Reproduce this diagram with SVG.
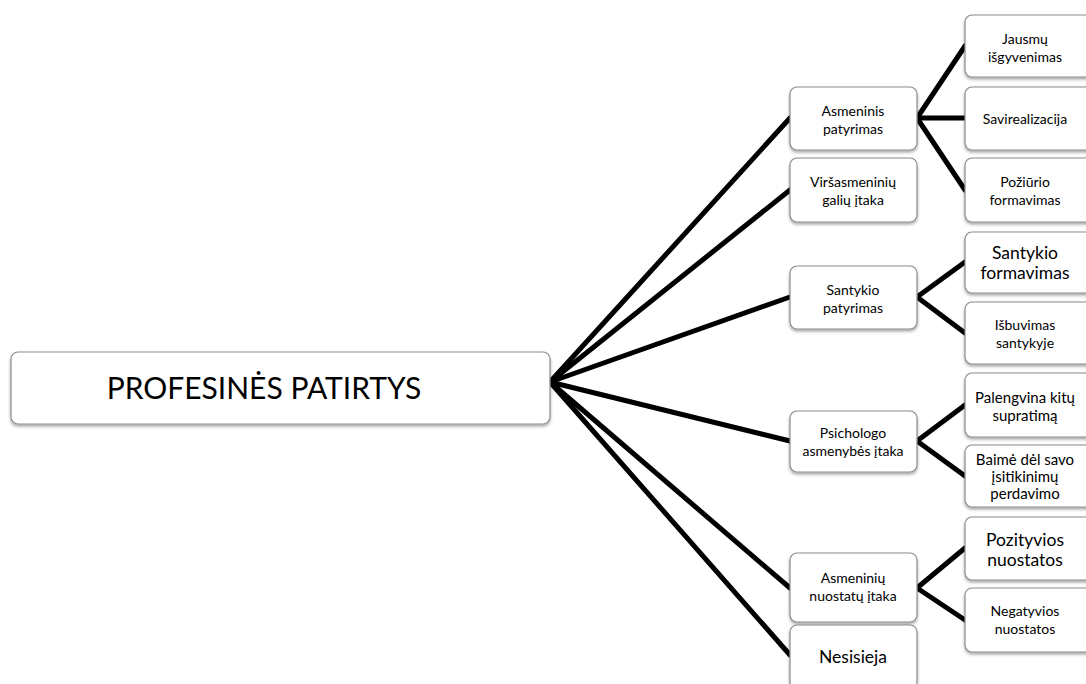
<svg xmlns="http://www.w3.org/2000/svg" width="1086" height="684" viewBox="0 0 1086 684">
<style>
.box{fill:#ffffff;stroke:#8c8c8c;stroke-width:1.2;filter:url(#sh)}
.t{font-family:Lato,"Open Sans","Liberation Sans",sans-serif;fill:#000;text-anchor:middle}
.s{font-size:14px}
.m{font-size:15px}
.l{font-size:17.5px}
.c{stroke:#000;stroke-width:5;stroke-linecap:round;fill:none}
</style>
<defs>
<filter id="sh" x="-10%" y="-10%" width="130%" height="140%">
<feDropShadow dx="0" dy="2" stdDeviation="1.8" flood-color="#000" flood-opacity="0.35"/>
</filter>
</defs>
<rect width="1086" height="684" fill="#ffffff"/>
<g id="connectors">
<path class="c" d="M550 382 L790 118"/>
<path class="c" d="M550 382 L790 190"/>
<path class="c" d="M550 382 L790 297"/>
<path class="c" d="M550 382 L790 441"/>
<path class="c" d="M550 382 L790 588"/>
<path class="c" d="M550 382 L790 655"/>
<path class="c" d="M917 118 L965 46"/>
<path class="c" d="M917 118 L965 118"/>
<path class="c" d="M917 118 L965 190"/>
<path class="c" d="M917 297 L965 262"/>
<path class="c" d="M917 297 L965 333"/>
<path class="c" d="M917 441 L965 405"/>
<path class="c" d="M917 441 L965 476"/>
<path class="c" d="M917 588 L965 548"/>
<path class="c" d="M917 588 L965 620"/>
</g>
<g id="root">
<rect class="box" x="11" y="352" width="539" height="72" rx="7"/>
<text class="t" x="264" y="399" style="font-size:30px">PROFESINĖS PATIRTYS</text>
</g>
<g id="asmeninis">
<rect class="box" x="790" y="87" width="127" height="63" rx="7"/>
<text class="t s" x="853" y="116">Asmeninis</text>
<text class="t s" x="853" y="134">patyrimas</text>
</g>
<g id="virsasmeniniu">
<rect class="box" x="790" y="158" width="127" height="64" rx="7"/>
<text class="t s" x="853" y="187">Viršasmeninių</text>
<text class="t s" x="853" y="205">galių įtaka</text>
</g>
<g id="santykio-patyrimas">
<rect class="box" x="790" y="266" width="127" height="63" rx="7"/>
<text class="t s" x="853" y="295">Santykio</text>
<text class="t s" x="853" y="313">patyrimas</text>
</g>
<g id="psichologo">
<rect class="box" x="790" y="411" width="127" height="61" rx="7"/>
<text class="t s" x="853" y="438">Psichologo</text>
<text class="t s" x="853" y="456">asmenybės įtaka</text>
</g>
<g id="asmeniniu-nuostatu">
<rect class="box" x="790" y="553" width="127" height="69" rx="7"/>
<text class="t s" x="853" y="583">Asmeninių</text>
<text class="t s" x="853" y="601">nuostatų įtaka</text>
</g>
<g id="nesisieja">
<rect class="box" x="790" y="625" width="127" height="64" rx="7"/>
<text class="t l" x="853" y="663">Nesisieja</text>
</g>
<g id="jausmu">
<rect class="box" x="965" y="15" width="130" height="62" rx="7"/>
<text class="t s" x="1025" y="44">Jausmų</text>
<text class="t s" x="1025" y="62">išgyvenimas</text>
</g>
<g id="savirealizacija">
<rect class="box" x="965" y="87" width="130" height="63" rx="7"/>
<text class="t s" x="1025" y="124">Savirealizacija</text>
</g>
<g id="poziurio">
<rect class="box" x="965" y="158" width="130" height="64" rx="7"/>
<text class="t s" x="1025" y="187">Požiūrio</text>
<text class="t s" x="1025" y="205">formavimas</text>
</g>
<g id="santykio-formavimas">
<rect class="box" x="965" y="232" width="130" height="61" rx="7"/>
<text class="t l" x="1025" y="259">Santykio</text>
<text class="t l" x="1025" y="279">formavimas</text>
</g>
<g id="isbuvimas">
<rect class="box" x="965" y="302" width="130" height="62" rx="7"/>
<text class="t s" x="1025" y="330">Išbuvimas</text>
<text class="t s" x="1025" y="348">santykyje</text>
</g>
<g id="palengvina">
<rect class="box" x="965" y="373" width="130" height="64" rx="7"/>
<text class="t m" x="1025" y="403">Palengvina kitų</text>
<text class="t m" x="1025" y="421">supratimą</text>
</g>
<g id="baime">
<rect class="box" x="965" y="445" width="130" height="62" rx="7"/>
<text class="t m" x="1025" y="465">Baimė dėl savo</text>
<text class="t m" x="1025" y="482">įsitikinimų</text>
<text class="t m" x="1025" y="499">perdavimo</text>
</g>
<g id="pozityvios">
<rect class="box" x="965" y="517" width="130" height="63" rx="7"/>
<text class="t l" x="1025" y="546">Pozityvios</text>
<text class="t l" x="1025" y="566">nuostatos</text>
</g>
<g id="negatyvios">
<rect class="box" x="965" y="588" width="130" height="64" rx="7"/>
<text class="t s" x="1025" y="616">Negatyvios</text>
<text class="t s" x="1025" y="634">nuostatos</text>
</g>
</svg>
